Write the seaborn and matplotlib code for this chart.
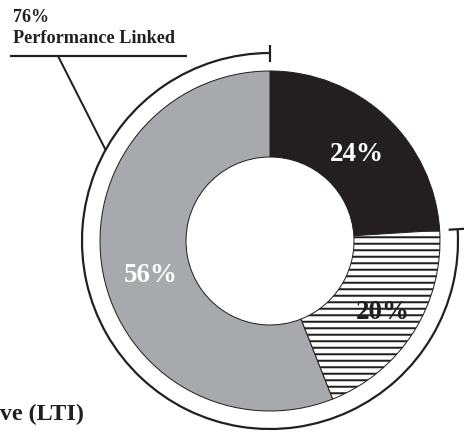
import numpy as np
import matplotlib
matplotlib.use("Agg")
import matplotlib.pyplot as plt
from matplotlib.patches import Arc
import seaborn as sns

# Pay-mix shares, drawn clockwise from 12 o'clock
segments = ["Fixed", "Short Term Incentive", "Long Term Incentive (LTI)"]
shares = [24, 20, 56]
fills = ["#231f20", "#ffffff", "#a7a9ac"]
hatches = ["", "--", ""]
label_colors = ["#ffffff", "#231f20", "#ffffff"]
linked_segments = [1, 2]          # indices grouped under the outer bracket
linked_caption = "Performance Linked"
lti_caption = "Long Term Incentive (LTI)"

DPI = 78
W, H = 464, 432


def pt(px):
    """Convert a pixel length to points at the figure dpi."""
    return px * 72.0 / DPI


sns.set_theme(style="white")
plt.rcParams["font.family"] = ["Liberation Serif", "DejaVu Serif"]
plt.rcParams["font.weight"] = "bold"
plt.rcParams["hatch.linewidth"] = pt(2.0)

fig = plt.figure(figsize=(W / DPI, H / DPI), dpi=DPI)
ax = fig.add_axes([0, 0, 1, 1])

cx, cy = 270, H - 241
R_OUT, R_IN = 170, 84
R_BRACKET = 188

wedges, _, pct_texts = ax.pie(
    shares,
    colors=fills,
    startangle=90,
    counterclock=False,
    radius=R_OUT,
    center=(cx, cy),
    autopct=lambda p: f"{p:.0f}%",
    pctdistance=0.75,
    wedgeprops=dict(width=R_OUT - R_IN, edgecolor="#231f20", linewidth=pt(1.0)),
    textprops=dict(fontsize=pt(27), fontweight="bold"),
)
for w, h in zip(wedges, hatches):
    if h:
        w.set_hatch(h)

# Percentage labels: centred horizontally, sitting on a baseline inside each ring segment
label_xy = [(357, 161), (383, 319), (151, 282)]
for t, c, (lx, ly) in zip(pct_texts, label_colors, label_xy):
    t.set_color(c)
    t.set_position((lx, H - ly))
    t.set_verticalalignment("baseline")
    t.set_horizontalalignment("center")

# Outer bracket spanning the performance-linked segments (counter-clockwise from top)
linked_total = sum(shares[i] for i in linked_segments)
theta_start = 90.0
theta_end = 90.0 + 360.0 * linked_total / sum(shares)
ax.add_patch(Arc((cx, cy), 2 * R_BRACKET, 2 * R_BRACKET,
                 theta1=theta_start, theta2=theta_end,
                 color="#231f20", linewidth=pt(2.2)))
for th in (theta_start, theta_end):
    a = np.deg2rad(th)
    r = np.array([179, 196])
    ax.plot(cx + r * np.cos(a), cy + r * np.sin(a), color="#231f20",
            linewidth=pt(2.2), solid_capstyle="butt")

# Caption with leader line to the bracket
a = np.deg2rad(151)
ax.plot([cx + R_BRACKET * np.cos(a), 58], [cy + R_BRACKET * np.sin(a), H - 56],
        color="#231f20", linewidth=pt(2.0))
ax.plot([10, 187], [H - 56, H - 56], color="#231f20", linewidth=pt(2.2),
        solid_capstyle="butt")
ax.text(13, H - 22, f"{linked_total}%", fontsize=pt(18), fontweight="bold",
        color="#231f20", ha="left", va="baseline")
ax.text(13, H - 43, linked_caption, fontsize=pt(18.3), fontweight="bold",
        color="#231f20", ha="left", va="baseline")

# Segment caption at the lower left
ax.text(84, H - 420, lti_caption, fontsize=pt(24), fontweight="bold",
        color="#231f20", ha="right", va="baseline")

ax.set_xlim(0, W)
ax.set_ylim(0, H)
ax.set_aspect("equal")
ax.axis("off")

fig.savefig("out.png", dpi=DPI, facecolor="white")
